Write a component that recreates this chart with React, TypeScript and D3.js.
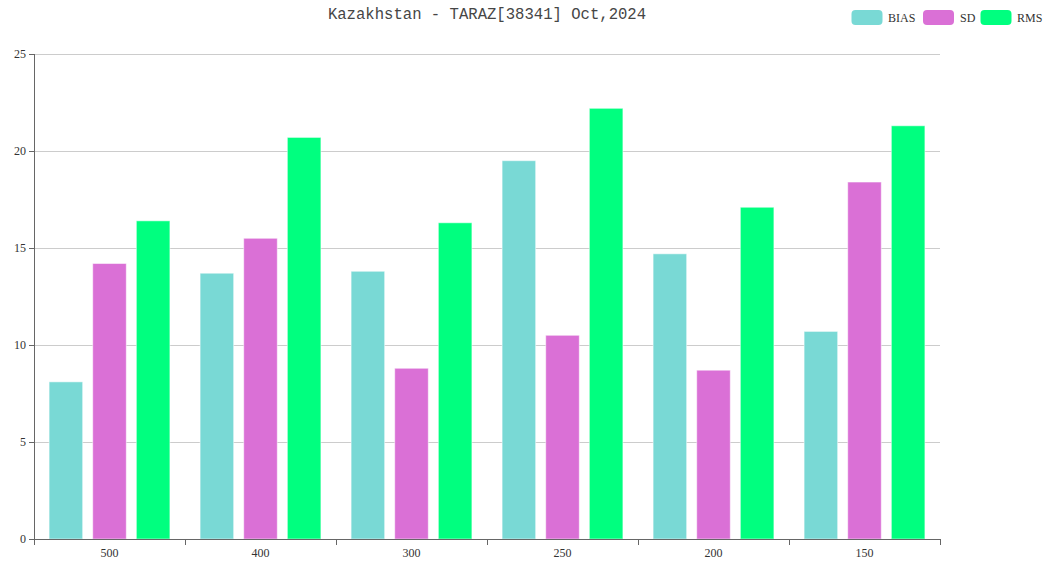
import React from "react";
import * as d3 from "d3";

const categories = ["500", "400", "300", "250", "200", "150"];
const seriesNames = ["BIAS", "SD", "RMS"];
const bias = [8.1, 13.7, 13.8, 19.5, 14.7, 10.7];
const sd = [14.2, 15.5, 8.8, 10.5, 8.7, 18.4];
const rms = [16.4, 20.7, 16.3, 22.2, 17.1, 21.3];
const yTicks = [0, 5, 10, 15, 20, 25];
const colors = ["#79d9d5", "#da70d6", "#00ff7f"];
const title = "Kazakhstan - TARAZ[38341] Oct,2024";

const W = 1048;
const H = 563;
const left = 34;
const right = 940;
const top = 54;
const bottom = 539;

export default function App() {
  const values = [bias, sd, rms];
  const x = d3.scaleBand<string>().domain(categories).range([left, right]);
  const y = d3.scaleLinear().domain([0, 25]).range([bottom, top]);
  const bw = x.bandwidth();
  const catGap = bw * 0.2;
  const barW = (bw - catGap) / 3.6;
  const barGap = barW * 0.3;
  const font = "'Liberation Serif', 'DejaVu Serif', serif";

  const legendItems = [
    { name: seriesNames[0], rx: 851.5, tx: 888 },
    { name: seriesNames[1], rx: 923, tx: 960 },
    { name: seriesNames[2], rx: 980.5, tx: 1017 },
  ];

  return (
    <svg width={W} height={H} style={{ position: "absolute", left: 0, top: 0 }}>
      <rect x={0} y={0} width={W} height={H} fill="#fff" />
      <text
        x={(left + right) / 2}
        y={19}
        textAnchor="middle"
        fontFamily="'Liberation Mono', 'DejaVu Sans Mono', monospace"
        fontSize={15.6}
        fill="#464646"
      >
        {title}
      </text>
      {legendItems.map((it, i) => (
        <g key={it.name}>
          <rect x={it.rx} y={10} width={31} height={15} rx={4} fill={colors[i]} />
          <text x={it.tx} y={21.5} fontFamily={font} fontSize={12} fill="#333">
            {it.name}
          </text>
        </g>
      ))}
      {yTicks.map((t) => (
        <g key={t}>
          {t > 0 && (
            <line x1={left} x2={right} y1={y(t) + 0.5} y2={y(t) + 0.5} stroke="#ccc" strokeWidth={1} />
          )}
          <line x1={left - 5} x2={left} y1={y(t) + 0.5} y2={y(t) + 0.5} stroke="#666" />
          <text
            x={left - 8}
            y={y(t) + 4}
            textAnchor="end"
            fontFamily={font}
            fontSize={12}
            fill="#333"
          >
            {t}
          </text>
        </g>
      ))}
      {categories.map((c, ci) =>
        values.map((vals, si) => {
          const bx = (x(c) as number) + catGap / 2 + si * (barW + barGap);
          const by = y(vals[ci]);
          return (
            <rect
              key={c + si}
              x={bx}
              y={by}
              width={barW}
              height={bottom - by}
              fill={colors[si]}
              stroke="#ffffff"
              strokeOpacity={0.5}
              strokeWidth={1}
            />
          );
        })
      )}
      <line x1={left + 0.5} x2={left + 0.5} y1={top} y2={bottom} stroke="#666" />
      <line x1={left} x2={right + 1} y1={bottom + 0.5} y2={bottom + 0.5} stroke="#666" />
      {[...categories.map((c) => x(c) as number), right].map((tx, i) => (
        <line key={i} x1={tx + 0.5} x2={tx + 0.5} y1={bottom} y2={bottom + 6} stroke="#666" />
      ))}
      {categories.map((c) => (
        <text
          key={c}
          x={(x(c) as number) + bw / 2}
          y={557}
          textAnchor="middle"
          fontFamily={font}
          fontSize={12}
          fill="#333"
        >
          {c}
        </text>
      ))}
    </svg>
  );
}
